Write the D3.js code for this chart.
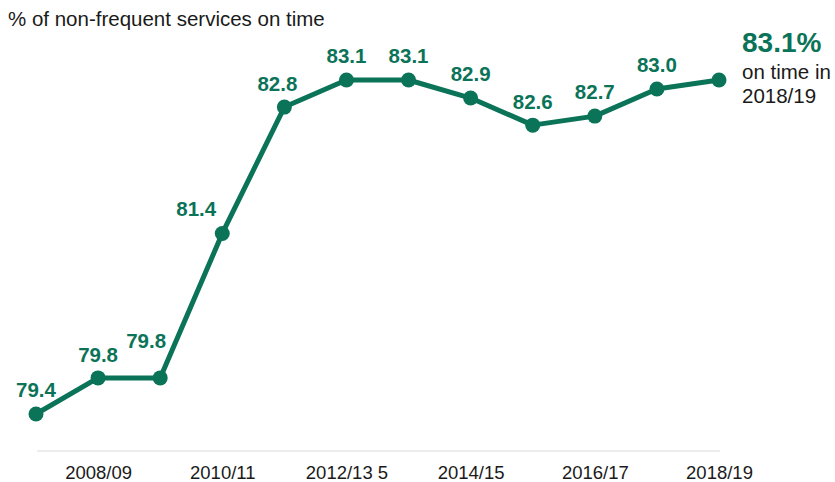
<!DOCTYPE html>
<html>
<head>
<meta charset="utf-8">
<script src="https://cdn.jsdelivr.net/npm/d3@7"></script>
<style>
  html, body { margin: 0; padding: 0; background: #fff; }
  svg { display: block; font-family: "Liberation Sans", Arial, sans-serif; }
</style>
</head>
<body>
<svg id="chart" width="835" height="482"></svg>
<script>
// Financial years and on-time share of non-frequent services (%)
const years = ["2007/08", "2008/09", "2009/10", "2010/11", "2011/12", "2012/13",
               "2013/14", "2014/15", "2015/16", "2016/17", "2017/18", "2018/19"];
const onTime = [79.4, 79.8, 79.8, 81.4, 82.8, 83.1, 83.1, 82.9, 82.6, 82.7, 83.0, 83.1];
const tickYears = ["2008/09", "2010/11", "2012/13", "2014/15", "2016/17", "2018/19"];
const tickLabels = ["2008/09", "2010/11", "2012/13 5", "2014/15", "2016/17", "2018/19"];

// label nudges (px) so values clear the line
const labelDx = [0, 0, -14, -26, -7, 0, 0, 0, 0, 0, 0, null];
const labelDy = [-17, -16, -30, -17, -16, -17, -17, -17, -16, -17, -17, null];

const green = "#0b7358";
const svg = d3.select("#chart");

const x = d3.scalePoint().domain(years).range([36, 719]);
const y = d3.scaleLinear().domain([79.4, 83.1]).range([414, 80]);

// title
svg.append("text")
  .attr("x", 8).attr("y", 26)
  .attr("font-size", 20.5).attr("fill", "#1a1a1a")
  .text("% of non-frequent services on time");

// baseline axis
const axis = d3.axisBottom(x).tickValues(tickYears)
  .tickSize(0).tickPadding(15)
  .tickFormat(d => tickLabels[tickYears.indexOf(d)]);
const gx = svg.append("g").attr("transform", "translate(0,451)").call(axis);
gx.select(".domain").attr("stroke", "#d9d9d9").attr("stroke-width", 1.2)
  .attr("d", `M${x(years[0]) + 1},0H${x(years[years.length - 1]) + 1}`);
gx.selectAll(".tick text")
  .attr("font-size", 18.5).attr("fill", "#1a1a1a")
  .attr("font-family", "'Liberation Sans', Arial, sans-serif");

// line
const line = d3.line().x((d, i) => x(years[i])).y(d => y(d));
svg.append("path").datum(onTime)
  .attr("d", line).attr("fill", "none")
  .attr("stroke", green).attr("stroke-width", 5)
  .attr("stroke-linejoin", "round");

// markers
svg.selectAll("circle.pt").data(onTime).join("circle")
  .attr("class", "pt")
  .attr("cx", (d, i) => x(years[i])).attr("cy", d => y(d))
  .attr("r", 7.5).attr("fill", green);

// value labels
svg.selectAll("text.val").data(onTime.slice(0, -1)).join("text")
  .attr("class", "val")
  .attr("x", (d, i) => x(years[i]) + labelDx[i])
  .attr("y", (d, i) => y(d) + labelDy[i])
  .attr("text-anchor", "middle")
  .attr("font-size", 20.5).attr("font-weight", "bold").attr("fill", green)
  .text(d => d.toFixed(1));

// latest value callout
const last = onTime[onTime.length - 1];
svg.append("text")
  .attr("x", 742).attr("y", 52)
  .attr("font-size", 28).attr("font-weight", "bold").attr("fill", green)
  .text(last.toFixed(1) + "%");
svg.append("text")
  .attr("x", 742).attr("y", 79)
  .attr("font-size", 20.5).attr("fill", "#1a1a1a")
  .text("on time in");
svg.append("text")
  .attr("x", 742).attr("y", 103)
  .attr("font-size", 20.5).attr("fill", "#1a1a1a")
  .text(years[years.length - 1]);
</script>
</body>
</html>
